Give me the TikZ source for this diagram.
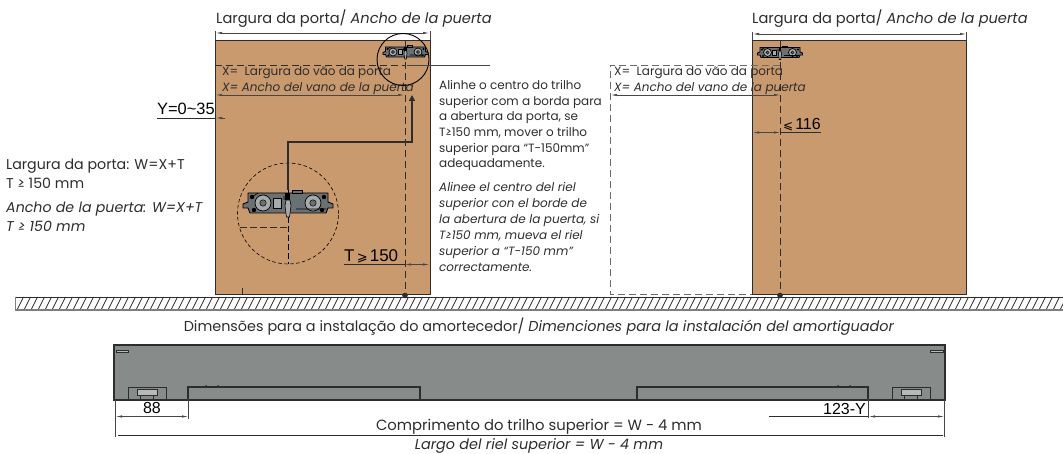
\documentclass[tikz,border=0pt]{standalone}
\usepackage{fontspec}
\setmainfont{Poppins}
\newfontfamily\arialf{Liberation Sans}
\newfontfamily\symf{DejaVu Sans}
\usetikzlibrary{arrows.meta}
\definecolor{door}{RGB}{200,154,110}
\definecolor{rail}{RGB}{135,140,139}
\definecolor{ink}{RGB}{45,45,45}
\definecolor{dim}{RGB}{70,70,70}
\definecolor{rollfill}{RGB}{105,113,115}
\tikzset{
  doorbox/.style={draw=ink,line width=1.1pt,fill=door},
  dimline/.style={draw=dim,line width=0.6pt},
  dimarrow/.style={dimline,{Latex[length=6pt,width=2.4pt]}-{Latex[length=6pt,width=2.4pt]}},
  dashline/.style={draw=ink,line width=0.8pt,dash pattern=on 7pt off 4pt},
  graydash/.style={draw=dim!80,line width=0.8pt,dash pattern=on 7pt off 4pt},
  txt/.style={anchor=base west,inner sep=0pt,font=\fontsize{12}{14}\selectfont,text=ink},
  lbl/.style={anchor=base west,inner sep=0pt,font=\fontsize{14.2}{16}\selectfont,text=ink},
  nums/.style={anchor=base west,inner sep=0pt,font=\arialf\fontsize{16}{18}\selectfont,text=black},
  railbox/.style={draw=ink,line width=1.1pt},
  roller/.pic={
    \fill[rollfill,draw=black,line width=0.9pt] (-40,-10) -- (40,-10) -- (40,-1) -- (45,1) -- (45,5) -- (40,5) -- (38,10) -- (-38,10) -- (-40,5) -- (-45,5) -- (-45,1) -- (-40,-1) -- cycle;
    \foreach \cx in {-25,25}{
      \fill[rollfill!60!white,draw=black,line width=0.7pt] (\cx,0) circle (8);
      \fill[rollfill,draw=black,line width=0.5pt] (\cx,0) circle (3.2);
    }
    \fill[rollfill!60!white,draw=black,line width=0.6pt] (-15,-5) rectangle (-7,5);
    \fill[black] (-3,-10) rectangle (2,-3);
    \fill[rollfill!60!white,draw=black,line width=0.6pt] (-2,-3) -- (2,-3) -- (3,3) -- (1.5,14) -- (-1.5,14) -- (-3,3) -- cycle;
    \fill[rollfill,draw=black,line width=0.6pt] (4,-13) rectangle (14,-10);
    \draw[black,line width=0.6pt] (-4,-7) -- (-4,-3) (8,6) -- (38,6) (-36,-6) -- (-30,-10);
    \foreach \cx/\cy in {-36/-6,36/-6,-34/7,34/7}{ \fill[black] (\cx,\cy) circle (2.2); }
  },
}
\begin{document}
\begin{tikzpicture}[x=1pt,y=-1pt]
\useasboundingbox (0,0) rectangle (1063,454);

% Left door
\node[doorbox,minimum width=215pt,minimum height=254pt,inner sep=0pt,anchor=north west] (doorA) at (215,40) {};
\node[lbl,font=\fontsize{14.6}{16}\selectfont] (titleA) at (216,24) {Largura da porta/ \textit{Ancho de la puerta}};
\draw[dimarrow] (216,33) -- (429,33);
\draw[dimline] (215.5,31) -- (215.5,40) (430,31) -- (430,40);

\draw[dashline] (215,65) -- (405,65);
\draw[dashline] (405,40) -- (405,294);
\fill[ink] (405,295.5) circle (2.8);
\draw[ink,line width=0.8pt] (398,297) -- (412,297);

\node[txt] (xA1) at (222,76) {X=\ \ Largura do vão da porta};
\node[txt] (xA2) at (222,92) {\textit{X= Ancho del vano de la puerta}};
\draw[dimarrow] (216,95) -- (404,95);

% Y
\node[nums,font=\arialf\fontsize{16.4}{18}\selectfont] (yLab) at (157,115) {Y=0\char"007E 35};
\draw[draw=ink,line width=0.7pt] (157,118) -- (215,118);
\draw[dimline,{Latex[length=6pt,width=2.4pt]}-] (216,118) -- (225,118);

% zoom circles
\node[draw=black,line width=0.9pt,circle,minimum size=52pt,inner sep=0pt] (cTop) at (403,59.5) {};
\draw[dimline] (407,65) -- (490,65);
\pic[scale=0.5] at (405.5,52) {roller};
\node[draw=black,line width=0.6pt,circle,dash pattern=on 3.5pt off 2.5pt,minimum size=101pt,inner sep=0pt] (cBig) at (288,213.5) {};
\draw[draw=black,line width=0.7pt,dash pattern=on 6pt off 3pt] (288,163) -- (288,264);
\draw[draw=ink,line width=0.7pt,dash pattern=on 7pt off 3pt] (240,227) -- (288,227);
\pic at (288,203) {roller};
% thick arrow
\draw[draw=ink,line width=1.2pt,-{Triangle[length=6pt,width=6pt]}] (288,190) -- (288,142) -- (412,142) -- (412,95);

% T
\node[nums,font=\arialf\fontsize{17}{19}\selectfont] (tLab) at (344,262) {T{\symf\fontsize{13}{15}\selectfont\,⩾\,}150};
\draw[draw=ink,line width=0.7pt] (344,264.5) -- (405,264.5);
\draw[dimarrow] (405,264.5) -- (429,264.5);
\draw[draw=ink,line width=0.7pt] (242,288) -- (242,294);

% middle text
\foreach \yy/\tt in {90/Alinhe o centro do trilho,105.5/superior com a borda para,121/a abertura da porta\char"002C\ se,137/T≥150 mm\char"002C\ mover o trilho,152.5/superior para “T-150mm”,168/adequadamente.}{
  \node[txt] at (439,\yy) {\tt};
}
\foreach \yy/\tt in {192/Alinee el centro del riel,208/superior con el borde de,224/la abertura de la puerta\char"002C\ si,240/T≥150 mm\char"002C\ mueva el riel,256/superior a “T-150 mm”,272/correctamente.}{
  \node[txt] at (439,\yy) {\textit{\tt}};
}

% left text
\node[lbl] (l1) at (6,170) {Largura da porta: W=X+T};
\node[lbl] (l2) at (6,189) {T ≥ 150 mm};
\node[lbl] (l3) at (6,213) {\textit{Ancho de la puerta: W=X+T}};
\node[lbl] (l4) at (6,232) {\textit{T ≥ 150 mm}};

% Right door
\node[doorbox,minimum width=214pt,minimum height=254pt,inner sep=0pt,anchor=north west] (doorB) at (752,40) {};
\node[lbl,font=\fontsize{14.6}{16}\selectfont] (titleB) at (752,24) {Largura da porta/ \textit{Ancho de la puerta}};
\draw[dimarrow] (753,34) -- (966,34);
\draw[dimline] (752,32) -- (752,40) (966,32) -- (966,40);
\draw[graydash] (780,65) -- (610,65) -- (610,294) -- (752,294);
\draw[dashline] (780,40) -- (780,294);
\fill[ink] (780,295.5) circle (2.8);
\draw[ink,line width=0.8pt] (773,297) -- (787,297);
\pic[scale=0.5] at (780,52.5) {roller};
\node[txt] (xB1) at (614,76) {X=\ \ Largura do vão da porta};
\node[txt] (xB2) at (614,92) {\textit{X= Ancho del vano de la puerta}};
\draw[dimarrow] (611,95) -- (780,95);
\node[nums] (n116) at (783,130) {{\symf\fontsize{12}{14}\selectfont ⩽\,}116};
\draw[dimarrow] (753,132.5) -- (780,132.5);
\draw[draw=ink,line width=0.7pt] (780,132.5) -- (821,132.5);

% Floor
\begin{scope}
\clip (15,297) rectangle (1063,311);
\foreach \i in {0,...,150}{ \draw[draw=ink,line width=0.7pt] ({17+7*\i},310) -- ({23.5+7*\i},297); }
\end{scope}
\draw[draw=ink,line width=0.9pt] (15,297.5) -- (1063,297.5);
\draw[draw=dim!70,line width=1.1pt] (15,310) -- (1063,310);
\draw[draw=dim!70,line width=0.9pt] (15,297) -- (15,310);

% Heading
\node[txt,anchor=base,font=\fontsize{14.4}{16}\selectfont] (head) at (539,332) {Dimensões para a instalação do amortecedor/ \textit{Dimenciones para la instalación del amortiguador}};

% Rail
\fill[rail] (114,345) rectangle (945,400);
\draw[draw=ink,line width=1.6pt] (114,400) -- (114,345) -- (945,345) -- (945,400) -- cycle;
\draw[railbox,fill=rail] (188,387) rectangle (420,399.5);
\draw[railbox,fill=rail] (637,387) rectangle (868,399.5);
\foreach \dx in {128,892}{
  \draw[draw=ink,line width=0.7pt] (\dx,399) -- (\dx,387.5) -- (\dx+38,387.5) -- (\dx+38,399);
  \draw[draw=ink,line width=0.9pt,fill=rail!60!white] (\dx+9,389) rectangle (\dx+29,395);
  \draw[draw=ink,line width=0.7pt] (\dx+12,395) rectangle (\dx+25,399);
}
\draw[draw=ink,line width=0.6pt,fill=rail!60!white] (116,350) rectangle (128,352.5);
\draw[draw=ink,line width=0.6pt,fill=rail!60!white] (930,350) rectangle (943,352.5);
\fill[ink] (206,386) circle (1) (218,386) circle (1) (838,386) circle (1) (850,386) circle (1);

% Rail dims
\draw[dimline] (115,400) -- (115,437);
\draw[dimline] (944,400) -- (944,437);
\draw[draw=ink,line width=0.7pt] (118,435.5) -- (943,435.5);
\draw[dimline] (188,399) -- (188,419);
\draw[dimarrow] (116,416.5) -- (188,416.5);
\node[nums,anchor=base] (n88) at (152,413) {88};
\draw[dimline] (868,399) -- (868,418);
\draw[dimarrow] (869,416.5) -- (944,416.5);
\draw[draw=ink,line width=0.7pt] (769,416.5) -- (868,416.5);
\node[nums,anchor=base east] (n123) at (866,414) {123-Y};
\node[txt,anchor=base,font=\fontsize{14.8}{16}\selectfont] (len1t) at (539,430) {Comprimento do trilho superior = W - 4 mm};
\node[txt,anchor=base,font=\fontsize{14.4}{16}\selectfont] (len2t) at (539,449) {\textit{Largo del riel superior = W - 4 mm}};
\end{tikzpicture}
\end{document}
